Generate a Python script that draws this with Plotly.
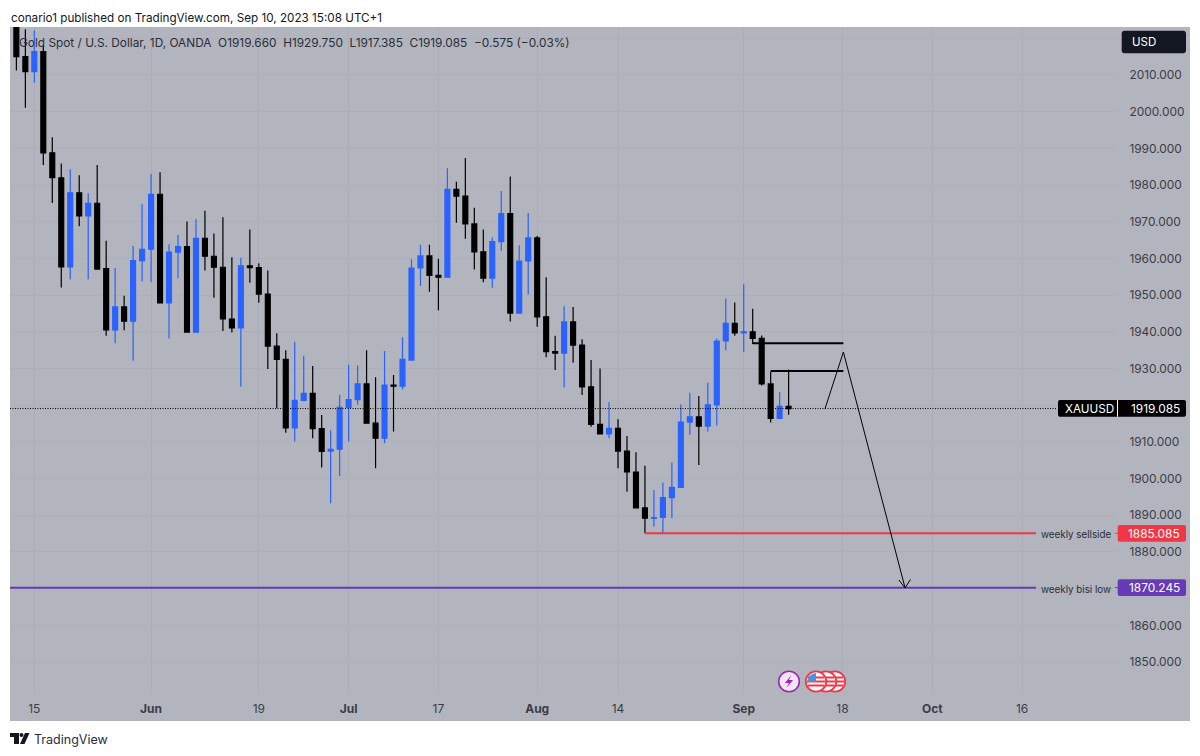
import plotly.graph_objects as go

days = list(range(-2, 85))
opens = [2030.0,2015.0,2010.9,2016.4,1988.8,1982.0,1957.7,1977.9,1971.6,1975.0,
         1957.2,1940.5,1946.8,1942.9,1959.4,1962.5,1977.5,1947.9,1961.7,1963.2,
         1939.9,1965.5,1960.6,1957.6,1943.5,1941.1,1958.0,1957.5,1950.3,1936.1,
         1932.5,1913.8,1921.3,1923.2,1913.6,1907.5,1908.0,1919.4,1921.5,1925.8,
         1915.1,1911.0,1925.5,1925.2,1932.3,1957.4,1960.7,1955.4,1954.9,1978.8,
         1977.0,1969.4,1961.8,1954.6,1964.6,1972.2,1945.1,1959.3,1965.6,1944.1,
         1934.6,1934.2,1942.7,1936.4,1925.0,1914.8,1912.2,1913.7,1907.5,1901.8,
         1892.0,1889.2,1889.4,1894.8,1897.6,1915.4,1916.8,1914.3,1920.1,1937.5,
         1942.3,1939.7,1940.0,1938.2,1925.8,1916.4,1919.66]
highs = [2032.0,2022.5,2022.1,2018.2,1993.0,1985.9,1984.3,1982.7,1977.8,1985.5,
         1964.8,1957.4,1949.8,1963.4,1974.8,1983.0,1983.5,1963.9,1966.4,1970.1,
         1970.7,1973.0,1966.8,1971.2,1960.3,1960.2,1967.9,1958.7,1956.7,1939.6,
         1935.0,1937.3,1933.5,1930.7,1917.3,1913.2,1922.8,1931.0,1930.8,1935.0,
         1927.6,1934.8,1928.2,1938.5,1959.8,1963.7,1963.7,1959.9,1984.6,1980.9,
         1987.4,1973.8,1967.9,1965.7,1978.4,1982.3,1963.6,1972.4,1966.1,1954.9,
         1938.9,1947.0,1946.8,1938.0,1932.3,1930.0,1920.9,1916.2,1911.6,1907.2,
         1903.5,1896.9,1898.9,1904.4,1920.2,1923.4,1922.5,1926.1,1938.2,1949.1,
         1948.0,1953.0,1946.3,1939.0,1929.1,1923.5,1929.75]
lows = [2011.2,2001.1,2007.9,1985.5,1975.1,1952.1,1954.3,1968.8,1954.3,1956.9,
        1938.9,1936.9,1940.4,1932.1,1953.8,1953.5,1947.8,1938.2,1954.6,1939.9,
        1939.9,1956.7,1949.3,1940.2,1939.8,1925.0,1953.4,1947.9,1929.9,1919.2,
        1912.5,1910.1,1921.1,1911.0,1903.0,1893.3,1900.7,1910.1,1920.1,1915.0,
        1902.8,1909.6,1912.8,1924.3,1932.3,1952.5,1950.9,1945.9,1954.8,1969.7,
        1965.4,1957.0,1953.5,1952.0,1962.0,1942.8,1945.1,1950.2,1941.4,1933.1,
        1929.6,1924.8,1931.6,1922.8,1914.1,1912.2,1911.0,1902.8,1896.4,1892.0,
        1885.085,1886.9,1885.1,1889.2,1897.6,1911.9,1903.7,1912.8,1914.4,1935.0,
        1938.9,1934.6,1936.7,1925.4,1915.3,1916.4,1917.385]
closes = [2015.0,2010.9,2016.4,1988.8,1982.0,1957.7,1977.9,1971.6,1975.0,1957.1,
          1940.5,1946.8,1942.9,1959.4,1962.5,1977.5,1947.9,1961.7,1963.2,1939.9,
          1965.5,1960.6,1957.6,1943.5,1941.1,1958.0,1957.5,1950.3,1936.1,1932.5,
          1913.8,1921.3,1923.2,1913.6,1907.4,1908.0,1919.4,1921.5,1925.8,1915.1,
          1911.0,1925.5,1925.2,1932.5,1957.4,1960.7,1955.4,1954.9,1978.8,1977.0,
          1969.4,1961.8,1954.6,1964.6,1972.2,1945.1,1959.3,1965.6,1944.1,1934.6,
          1934.2,1942.7,1936.4,1925.0,1914.8,1912.2,1913.7,1907.5,1901.8,1892.0,
          1889.2,1889.4,1894.8,1897.6,1915.4,1916.8,1914.3,1920.1,1937.5,1942.3,
          1939.7,1940.0,1938.2,1925.8,1916.4,1919.7,1919.085]

x_tick_days = [0, 13, 25, 35, 45, 56, 65, 79, 90, 100, 110]
x_tick_labels = ["15", "<b>Jun</b>", "19", "<b>Jul</b>", "17", "<b>Aug</b>", "14",
                 "<b>Sep</b>", "18", "<b>Oct</b>", "16"]
y_ticks = [2020, 2010, 2000, 1990, 1980, 1970, 1960, 1950, 1940, 1930, 1920, 1910,
           1900, 1890, 1880, 1870, 1860, 1850]
y_tick_labels = ["", "2010.000", "2000.000", "1990.000", "1980.000", "1970.000",
                 "1960.000", "1950.000", "1940.000", "1930.000", "", "1910.000",
                 "1900.000", "1890.000", "1880.000", "", "1860.000", "1850.000"]

last_price = 1919.085
sell_price = 1885.085
bisi_price = 1870.245
level_1_x, level_1_y = [80, 90.1], [1936.9, 1936.9]
level_2_x, level_2_y = [82, 90.1], [1929.3, 1929.3]
path_x = [88.05, 90.1, 96.96]
path_y = [1919.0, 1934.5, 1870.3]
sell_x = [68, 111.55]
bisi_x = [-2.71, 111.55]
last_x = [-2.71, 113.9]

X_RANGE = [-2.71, 120.57]
Y_RANGE = [1841.29, 2023.08]
L, R, T, B = 10, 1117, 27, 694
BG = "#b2b5be"
BLUE = "#2962ff"
RED = "#f23645"
PURPLE = "#673ab7"
FONT = "Inter"


def px(x):
    return (x - L) / (R - L)


def py(y):
    return (B - y) / (B - T)


def rrect(x0, y0, x1, y1, r):
    p = [("M", x0 + r, y0), ("L", x1 - r, y0), ("Q", x1, y0, x1, y0 + r), ("L", x1, y1 - r),
         ("Q", x1, y1, x1 - r, y1), ("L", x0 + r, y1), ("Q", x0, y1, x0, y1 - r),
         ("L", x0, y0 + r), ("Q", x0, y0, x0 + r, y0)]
    return poly(p) + " Z"


def poly(cmds):
    out = []
    for c in cmds:
        vals = c[1:]
        pts = []
        for k in range(0, len(vals), 2):
            pts.append(f"{px(vals[k]):.5f},{py(vals[k + 1]):.5f}")
        out.append(c[0] + " ".join(pts))
    return " ".join(out)


def pshape(path, fill=None, line=None, width=0, layer="above"):
    d = dict(type="path", xref="paper", yref="paper", path=path, layer=layer,
             line=dict(color=line or "rgba(0,0,0,0)", width=width))
    if fill:
        d["fillcolor"] = fill
    return d


def circle(cx, cy, r, fill, line, width):
    return dict(type="circle", xref="paper", yref="paper", x0=px(cx - r), x1=px(cx + r),
                y0=py(cy + r), y1=py(cy - r), fillcolor=fill, layer="above",
                line=dict(color=line, width=width))


def text(x, y, s, size=13, color="#2a2e39", anchor="left", **kw):
    return dict(xref="paper", yref="paper", x=px(x), y=py(y), text=s, showarrow=False,
                xanchor=anchor, yanchor="middle", borderpad=0,
                font=dict(family=FONT, size=size, color=color), **kw)


fig = go.Figure()
fig.add_trace(go.Candlestick(
    x=days, open=opens, high=highs, low=lows, close=closes,
    increasing=dict(line=dict(color=BLUE, width=1.2), fillcolor=BLUE),
    decreasing=dict(line=dict(color="#000000", width=1.2), fillcolor="#000000"),
    whiskerwidth=0, showlegend=False, hoverinfo="skip"))


def line(x, y, color, width, dash="solid"):
    fig.add_trace(go.Scatter(x=x, y=y, mode="lines", showlegend=False, hoverinfo="skip",
                             line=dict(color=color, width=width, dash=dash)))


line(last_x, [last_price, last_price], "#000000", 1, "1px,1.5px")
line(sell_x, [sell_price, sell_price], RED, 2)
line(bisi_x, [bisi_price, bisi_price], PURPLE, 2)
line(level_1_x, level_1_y, "#000000", 2)
line(level_2_x, level_2_y, "#000000", 2)
line(path_x, path_y, "#000000", 1)

shapes = [
    dict(type="rect", xref="paper", yref="paper", x0=px(10), x1=px(1190), y0=py(721), y1=py(27),
         fillcolor=BG, line=dict(width=0), layer="below"),
    # arrow head
    pshape(poly([("M", 899, 580), ("L", 905, 588), ("L", 910.5, 579.5)]), line="#000000", width=1),
    # price labels
    pshape(rrect(1121.7, 30.7, 1186, 53.3, 3), fill="#131722"),
    pshape(rrect(1058, 400, 1186, 416.7, 2), fill="#000000"),
    pshape(poly([("M", 1117.5, 400), ("L", 1117.5, 416.7)]), line="#ffffff", width=1),
    pshape(rrect(1117.7, 525, 1186, 541.7, 2), fill=RED),
    pshape(rrect(1117.7, 579.3, 1186, 596, 2), fill=PURPLE),
    pshape(poly([("M", 1115, 533.3), ("L", 1118, 533.3)]), line=RED, width=1),
    pshape(poly([("M", 1115, 587.6), ("L", 1118, 587.6)]), line=PURPLE, width=1),
    # lightning event icon
    circle(789, 681.5, 10.3, "#f3e5f5", "#9c27b0", 1.6),
    pshape(poly([("M", 791.5, 675), ("L", 785, 683), ("L", 789, 683), ("L", 786.5, 688),
                 ("L", 793, 680), ("L", 789, 680)]) + " Z", fill="#9c27b0"),
]
# three overlapping US flag icons, back to front
for cx in (835, 826, 816):
    shapes.append(circle(cx, 681.5, 10.2, "#ffffff", RED, 1.8))
    for dy, half in ((-4, 8), (0, 9), (4, 8)):
        shapes.append(pshape(poly([("M", cx - half, 681.5 + dy), ("L", cx + half, 681.5 + dy)]),
                             line=RED, width=2))
shapes.append(pshape(poly([("M", 816, 673), ("L", 816, 682), ("L", 807.5, 682),
                           ("Q", 808, 674, 816, 673)]) + " Z", fill="#4a90e2"))
# TradingView logo
shapes += [
    pshape(poly([("M", 10, 733), ("L", 19, 733), ("L", 19, 744), ("L", 14, 744), ("L", 14, 737),
                 ("L", 10, 737)]) + " Z", fill="#131722"),
    circle(21.5, 735, 2, "#131722", "#131722", 0),
    pshape(poly([("M", 25, 733), ("L", 29.5, 733), ("L", 24.5, 744), ("L", 20, 744)]) + " Z",
           fill="#131722"),
]

annotations = [
    text(10, 17.5, "conario1 published on TradingView.com, Sep 10, 2023 15:08 UTC+1", size=11.7,
         color="#131722"),
    text(18, 43.5, "Gold Spot / U.S. Dollar, 1D, OANDA&#160;&#160;O1919.660&#160;&#160;H1929.750"
                   "&#160;&#160;L1917.385&#160;&#160;C1919.085&#160;&#160;−0.575 (−0.03%)",
         size=11.85, color="#2a2e39"),
    text(1130.5, 42, "USD", size=11.5, color="#ffffff"),
    text(1063.5, 408.6, "XAUUSD", size=11.7, color="#ffffff"),
    text(1180.5, 408.6, f"{last_price:.3f}", size=11.9, color="#ffffff", anchor="right"),
    text(1180.5, 533.3, f"{sell_price:.3f}", size=11.9, color="#ffffff", anchor="right"),
    text(1180.5, 587.6, f"{bisi_price:.3f}", size=11.9, color="#ffffff", anchor="right"),
    text(1040, 534.5, "weekly sellside", size=9.8, color="#2a2e39"),
    text(1040, 589, "weekly bisi low", size=9.8, color="#2a2e39"),
    text(33, 739, "TradingView", size=12.5, color="#2a2e39"),
]

fig.update_layout(
    width=1200, height=756, autosize=False,
    margin=dict(l=L, r=1200 - R, t=T, b=756 - B),
    paper_bgcolor="#ffffff", plot_bgcolor=BG, boxgap=0.22,
    font=dict(family=FONT, size=12, color="#3a3d47"),
    showlegend=False, shapes=shapes, annotations=annotations,
    xaxis=dict(range=X_RANGE, rangeslider=dict(visible=False), tickmode="array",
               tickvals=x_tick_days, ticktext=x_tick_labels, showgrid=True,
               gridcolor="#aaadb7", gridwidth=1, zeroline=False, showline=False,
               ticks="outside", ticklen=4, tickcolor="rgba(0,0,0,0)",
               tickfont=dict(family=FONT, size=12, color="#3a3d47")),
    yaxis=dict(range=Y_RANGE, side="right", tickmode="array", tickvals=y_ticks,
               ticktext=y_tick_labels, showgrid=True, gridcolor="#adb0b9", gridwidth=1,
               zeroline=False, showline=False, ticks="outside", ticklen=9,
               tickcolor="rgba(0,0,0,0)",
               tickfont=dict(family=FONT, size=11.9, color="#3a3d47")),
)

fig.write_html("out.html", config=dict(displayModeBar=False),
               post_script="document.body.style.margin='0';")
